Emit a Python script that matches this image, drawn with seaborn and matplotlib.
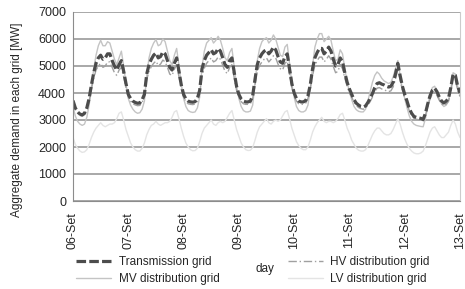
import numpy as np
import pandas as pd
import matplotlib
matplotlib.use("Agg")
import matplotlib.pyplot as plt
import seaborn as sns

# hourly values, 06-Set 00h .. 13-Set 00h
transmission = [
    3720, 3450, 3300, 3220, 3190, 3250, 3450, 3800, 4300, 4750, 5100, 5300, 5400, 5250, 5300, 5450, 5450, 5200, 5000, 4850, 5050, 5200, 4800, 4350,
    3950, 3800, 3700, 3650, 3620, 3630, 3750, 3950, 4700, 5050, 5250, 5400, 5480, 5300, 5350, 5520, 5450, 5200, 4950, 4850, 5100, 5300, 4800, 4300,
    3950, 3780, 3700, 3670, 3660, 3680, 3800, 4100, 4900, 5200, 5400, 5500, 5600, 5450, 5500, 5650, 5550, 5300, 5050, 4950, 5200, 5300, 4750, 4250,
    3950, 3780, 3700, 3670, 3670, 3700, 3900, 4500, 5050, 5300, 5450, 5550, 5600, 5450, 5550, 5700, 5600, 5350, 5150, 5100, 5350, 5450, 4900, 4350,
    4000, 3800, 3700, 3670, 3670, 3720, 3900, 4300, 4900, 5300, 5500, 5650, 5650, 5450, 5550, 5700, 5550, 5250, 5000, 5050, 5300, 5150, 4750, 4400,
    4150, 3950, 3750, 3620, 3550, 3500, 3480, 3520, 3650, 3800, 3980, 4200, 4350, 4380, 4330, 4300, 4250, 4220, 4250, 4400, 4700, 5100, 4650, 4250,
    3950, 3700, 3420, 3250, 3130, 3100, 3080, 3060, 3020, 3250, 3600, 3900, 4100, 4180, 4050, 3850, 3700, 3630, 3700, 3800, 4200, 4700, 4650, 4250,
    4000,
]
hv_grid = [
    3650, 3400, 3250, 3170, 3140, 3200, 3400, 3700, 4150, 4550, 4850, 5000, 5100, 4950, 5000, 5150, 5150, 4950, 4750, 4650, 4850, 4950, 4600, 4200,
    3850, 3700, 3600, 3560, 3530, 3540, 3650, 3850, 4500, 4800, 4980, 5100, 5180, 5020, 5070, 5220, 5150, 4950, 4700, 4650, 4880, 5050, 4600, 4150,
    3850, 3680, 3600, 3580, 3570, 3590, 3700, 3980, 4650, 4920, 5100, 5200, 5300, 5150, 5200, 5330, 5250, 5020, 4800, 4720, 4950, 5050, 4550, 4100,
    3850, 3680, 3600, 3580, 3580, 3600, 3800, 4300, 4800, 5020, 5150, 5250, 5300, 5150, 5250, 5380, 5300, 5070, 4900, 4850, 5100, 5180, 4700, 4200,
    3900, 3700, 3600, 3580, 3580, 3620, 3800, 4150, 4650, 5020, 5200, 5330, 5330, 5150, 5250, 5380, 5250, 4980, 4750, 4800, 5050, 4900, 4550, 4250,
    4000, 3850, 3650, 3530, 3460, 3420, 3400, 3440, 3550, 3680, 3850, 4050, 4180, 4200, 4150, 4130, 4080, 4050, 4080, 4230, 4520, 4900, 4480, 4100,
    3820, 3600, 3340, 3180, 3060, 3030, 3010, 2990, 2960, 3170, 3500, 3780, 3960, 4030, 3910, 3730, 3590, 3530, 3590, 3690, 4060, 4530, 4480, 4100,
    3870,
]
mv_grid = [
    3500, 3150, 2950, 2850, 2800, 2850, 3100, 3550, 4200, 4900, 5400, 5750, 5950, 5750, 5750, 5900, 5850, 5550, 5250, 5050, 5300, 5550, 5000, 4350,
    3800, 3550, 3400, 3300, 3250, 3270, 3400, 3700, 4650, 5300, 5650, 5850, 5980, 5750, 5800, 6000, 5900, 5550, 5200, 5050, 5400, 5650, 5000, 4350,
    3800, 3500, 3350, 3300, 3280, 3300, 3450, 3850, 4950, 5550, 5850, 5950, 6050, 5850, 5950, 6100, 5950, 5650, 5300, 5200, 5500, 5650, 4950, 4250,
    3800, 3500, 3350, 3300, 3300, 3330, 3550, 4350, 5200, 5650, 5900, 6000, 6050, 5850, 5950, 6150, 6000, 5700, 5400, 5350, 5700, 5800, 5100, 4350,
    3850, 3500, 3350, 3300, 3300, 3350, 3550, 4150, 5000, 5700, 6000, 6200, 6200, 5900, 6000, 6100, 5950, 5550, 5200, 5250, 5600, 5450, 4900, 4400,
    4050, 3750, 3500, 3380, 3320, 3300, 3300, 3400, 3700, 4050, 4400, 4650, 4780, 4700, 4550, 4450, 4400, 4350, 4400, 4600, 4900, 5200, 4650, 4150,
    3800, 3450, 3150, 2950, 2850, 2800, 2780, 2760, 2750, 3050, 3500, 3950, 4200, 4250, 4050, 3800, 3600, 3500, 3550, 3700, 4150, 4750, 4700, 4250,
    3950,
]
lv_grid = [
    2350, 2100, 1950, 1850, 1800, 1820, 1900, 2100, 2350, 2550, 2700, 2800, 2900, 2800, 2750, 2800, 2850, 2850, 2900, 3050, 3250, 3300, 3000, 2650,
    2400, 2150, 2000, 1900, 1850, 1850, 1950, 2150, 2450, 2650, 2800, 2850, 2950, 2850, 2800, 2850, 2900, 2900, 2950, 3100, 3300, 3350, 3050, 2700,
    2400, 2150, 2000, 1900, 1860, 1870, 1950, 2200, 2500, 2700, 2800, 2900, 3000, 2850, 2800, 2900, 2950, 2900, 2950, 3100, 3250, 3350, 3000, 2650,
    2400, 2150, 2000, 1900, 1870, 1880, 1980, 2250, 2550, 2750, 2850, 2950, 3050, 2900, 2850, 2950, 3000, 2950, 3000, 3150, 3300, 3350, 3050, 2700,
    2450, 2200, 2050, 1950, 1900, 1900, 2000, 2250, 2550, 2750, 2900, 3000, 3100, 2950, 2900, 2950, 2950, 2900, 2950, 3050, 3200, 3250, 3000, 2700,
    2500, 2250, 2100, 1950, 1880, 1850, 1850, 1900, 2050, 2250, 2450, 2600, 2700, 2700, 2600, 2500, 2450, 2450, 2500, 2650, 2850, 3050, 2850, 2550,
    2300, 2100, 1950, 1850, 1780, 1750, 1750, 1780, 1850, 2050, 2300, 2550, 2700, 2750, 2600, 2450, 2350, 2350, 2450, 2550, 2800, 3000, 2850, 2550,
    2350,
]
day_labels = ['06-Set', '07-Set', '08-Set', '09-Set', '10-Set', '11-Set', '12-Set', '13-Set']
y_ticks = [0, 1000, 2000, 3000, 4000, 5000, 6000, 7000]

df = pd.DataFrame({
    'hour': np.arange(len(transmission)),
    'Transmission grid': transmission,
    'HV distribution grid': hv_grid,
    'MV distribution grid': mv_grid,
    'LV distribution grid': lv_grid,
})

sns.set_style("white")
plt.rcParams['font.family'] = ['Liberation Sans', 'DejaVu Sans']
plt.rcParams['font.size'] = 9

fig = plt.figure(figsize=(4.65, 2.89), dpi=100)
ax = fig.add_axes([73 / 465, 1 - 201 / 289, 387 / 465, 189 / 289])

styles = {
    'LV distribution grid': dict(color='#e4e4e4', lw=1.0, ls='-'),
    'MV distribution grid': dict(color='#c4c4c4', lw=1.0, ls='-'),
    'HV distribution grid': dict(color='#a0a0a0', lw=1.0, ls=(0, (6, 2, 1, 2))),
    'Transmission grid': dict(color='#4c4c4c', lw=2.3, ls=(0, (3, 1))),
}
for name, st in styles.items():
    sns.lineplot(data=df, x='hour', y=name, ax=ax, label=name, **st)

ax.set_xlim(0, 168)
ax.set_ylim(0, 7000)
ax.set_yticks(y_ticks)
ax.set_xticks(np.arange(len(day_labels)) * 24)
ax.set_xticklabels(day_labels, rotation=90)
ax.yaxis.grid(True, color='#a8a8a8', lw=1.4)
ax.set_axisbelow(True)
for s in ['left', 'bottom']:
    ax.spines[s].set_color('#8c8c8c')
ax.spines['top'].set_visible(False)
ax.spines['right'].set_color('#cccccc')
ax.tick_params(axis='both', length=3, width=0.8, color='#8c8c8c', pad=2, labelsize=9)
ax.tick_params(axis='x', pad=5)

ax.set_ylabel('Aggregate demand in each grid [MW]', fontsize=8.5)
ax.yaxis.set_label_coords(-0.13, 0.43)
ax.set_xlabel('day', fontsize=8.5)
ax.xaxis.set_label_coords(0.496, -0.33)

ax.get_legend().remove()
handles, labels = ax.get_legend_handles_labels()
order = ['Transmission grid', 'MV distribution grid', 'HV distribution grid', 'LV distribution grid']
h = [handles[labels.index(o)] for o in order]
fig.legend(h, order, ncol=2, loc='upper left', bbox_to_anchor=(76 / 465, 1 - 256 / 289),
           frameon=False, fontsize=8.5, handlelength=3, handletextpad=0.6,
           columnspacing=5.8, labelspacing=0.45, borderpad=0, borderaxespad=0)

plt.savefig('out.png', dpi=100)
